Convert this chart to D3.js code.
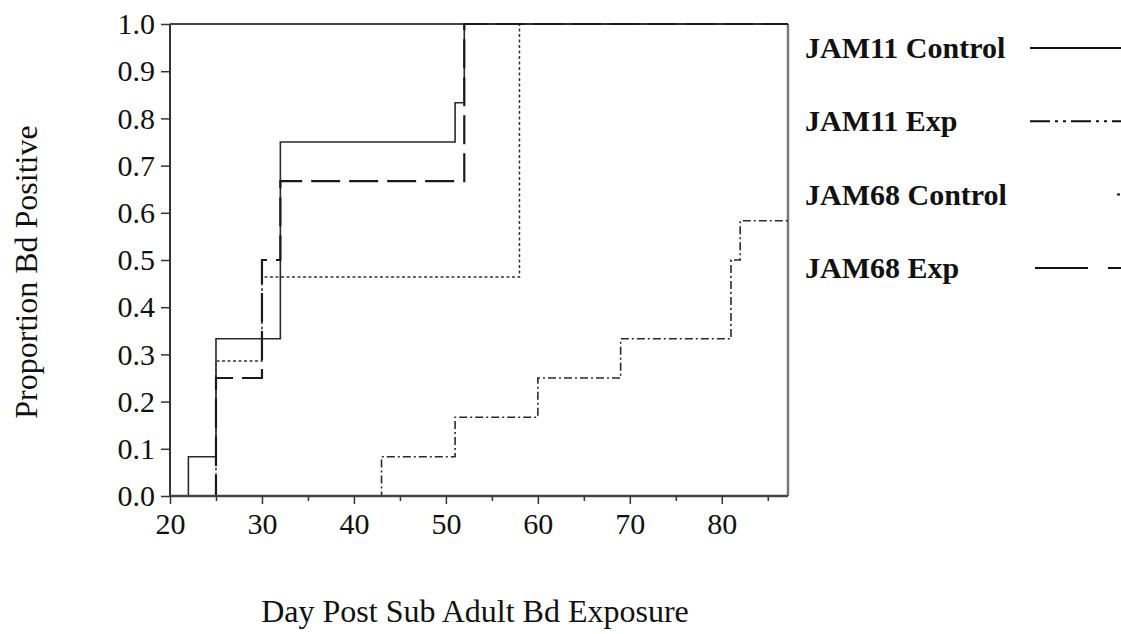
<!DOCTYPE html>
<html>
<head>
<meta charset="utf-8">
<script src="https://cdn.jsdelivr.net/npm/d3@7"></script>
<style>
  html, body { margin: 0; padding: 0; background: #fff; }
  svg { display: block; }
  text { font-family: "Liberation Serif", "Times New Roman", serif; fill: #111; }
</style>
</head>
<body>
<svg id="chart" width="1121" height="634"></svg>
<script>
// ---- data ----
const seriesNames = ["JAM11 Control", "JAM11 Exp", "JAM68 Control", "JAM68 Exp"];
const jam11ControlDays   = [20, 22, 25, 32, 51, 52];
const jam11ControlValues = [0, 0.083, 0.333, 0.75, 0.833, 1.0];
const jam11ExpDays       = [20, 43, 51, 60, 69, 81, 82];
const jam11ExpValues     = [0, 0.083, 0.167, 0.25, 0.333, 0.5, 0.583];
const jam68ControlDays   = [20, 25, 30, 58];
const jam68ControlValues = [0, 0.286, 0.464, 1.0];
const jam68ExpDays       = [20, 25, 30, 32, 52];
const jam68ExpValues     = [0, 0.25, 0.5, 0.667, 1.0];
const xTickValues = [20, 30, 40, 50, 60, 70, 80];
const xMinorTicks = [25, 35, 45, 55, 65, 75, 85];
const yTickValues = [0, 0.1, 0.2, 0.3, 0.4, 0.5, 0.6, 0.7, 0.8, 0.9, 1.0];
const xDomain = [20, 87.2];
const yDomain = [0, 1];
const xTitle = "Day Post Sub Adult Bd Exposure";
const yTitle = "Proportion Bd Positive";

// ---- layout / styles ----
const plotL = 170, plotR = 788, plotT = 24, plotB = 496;
const serif = "'Liberation Serif', 'Times New Roman', serif";
const styles = [
  { dash: null,            width: 1.6, color: "#2a2a2a", legendDash: null },
  { dash: "8,3,2,3",       width: 1.6, color: "#2a2a2a", legendDash: "20,5,3,5,3,5" },
  { dash: "3,2.5",         width: 1.5, color: "#333",    legendDash: "3,2.5" },
  { dash: "29,9",          width: 2.2, color: "#1a1a1a", legendDash: "53,20" }
];
const legendStartX = [1030, 1030, 1117, 1035];

const svg = d3.select("#chart");
const x = d3.scaleLinear().domain(xDomain).range([plotL, plotR]);
const y = d3.scaleLinear().domain(yDomain).range([plotB, plotT]);

const allSeries = [
  { days: jam11ControlDays, values: jam11ControlValues },
  { days: jam11ExpDays, values: jam11ExpValues },
  { days: jam68ControlDays, values: jam68ControlValues },
  { days: jam68ExpDays, values: jam68ExpValues }
];

// frame (top & right)
svg.append("line").attr("x1", plotL).attr("x2", plotR).attr("y1", plotT).attr("y2", plotT)
  .attr("stroke", "#444").attr("stroke-width", 2);
svg.append("line").attr("x1", plotR).attr("x2", plotR).attr("y1", plotT).attr("y2", plotB)
  .attr("stroke", "#777").attr("stroke-width", 2.5);

// series
const line = d3.line().x(d => x(d[0])).y(d => y(d[1])).curve(d3.curveStepAfter);
allSeries.forEach((s, i) => {
  const pts = s.days.map((d, k) => [d, s.values[k]]);
  pts.push([xDomain[1], s.values[s.values.length - 1]]);
  svg.append("path")
    .attr("d", line(pts))
    .attr("fill", "none")
    .attr("stroke", styles[i].color)
    .attr("stroke-width", styles[i].width)
    .attr("stroke-dasharray", styles[i].dash);
});

// y axis
const yAxis = svg.append("g").attr("transform", `translate(${plotL},0)`)
  .call(d3.axisLeft(y).tickValues(yTickValues).tickFormat(d3.format(".1f")).tickSize(9).tickPadding(6))
  .attr("font-family", serif).attr("font-size", 30);
yAxis.select(".domain").attr("stroke", "#333").attr("stroke-width", 2).attr("d", `M0,${plotT}V${plotB}`);
yAxis.selectAll(".tick line").attr("stroke", "#333").attr("stroke-width", 1.5);
yAxis.selectAll("text").attr("fill", "#111");

// x axis
const xAxis = svg.append("g").attr("transform", `translate(0,${plotB})`)
  .call(d3.axisBottom(x).tickValues(xTickValues).tickFormat(d3.format("d")).tickSize(8).tickPadding(9))
  .attr("font-family", serif).attr("font-size", 30);
xAxis.select(".domain").attr("stroke", "#444").attr("stroke-width", 2.5).attr("d", `M${plotL},0H${plotR}`);
xAxis.selectAll(".tick line").attr("stroke", "#333").attr("stroke-width", 1.5);
xAxis.selectAll("text").attr("fill", "#111");
const xMinor = svg.append("g").attr("transform", `translate(0,${plotB})`)
  .call(d3.axisBottom(x).tickValues(xMinorTicks).tickFormat("").tickSize(5));
xMinor.select(".domain").remove();
xMinor.selectAll(".tick line").attr("stroke", "#333").attr("stroke-width", 1.5);

// axis titles
svg.append("text").attr("x", 475).attr("y", 622).attr("text-anchor", "middle")
  .style("font-size", "32px").text(xTitle);
svg.append("text").attr("transform", "translate(37,272) rotate(-90)").attr("text-anchor", "middle")
  .style("font-size", "32px").text(yTitle);

// legend
seriesNames.forEach((name, i) => {
  const base = 58 + i * 73.3;
  svg.append("text").attr("x", 805).attr("y", base)
    .style("font-size", "30px").style("font-weight", "bold").text(name);
  svg.append("line")
    .attr("x1", legendStartX[i]).attr("x2", 1160)
    .attr("y1", base - 10).attr("y2", base - 10)
    .attr("stroke", "#111").attr("stroke-width", 2)
    .attr("stroke-dasharray", styles[i].legendDash);
});
</script>
</body>
</html>
